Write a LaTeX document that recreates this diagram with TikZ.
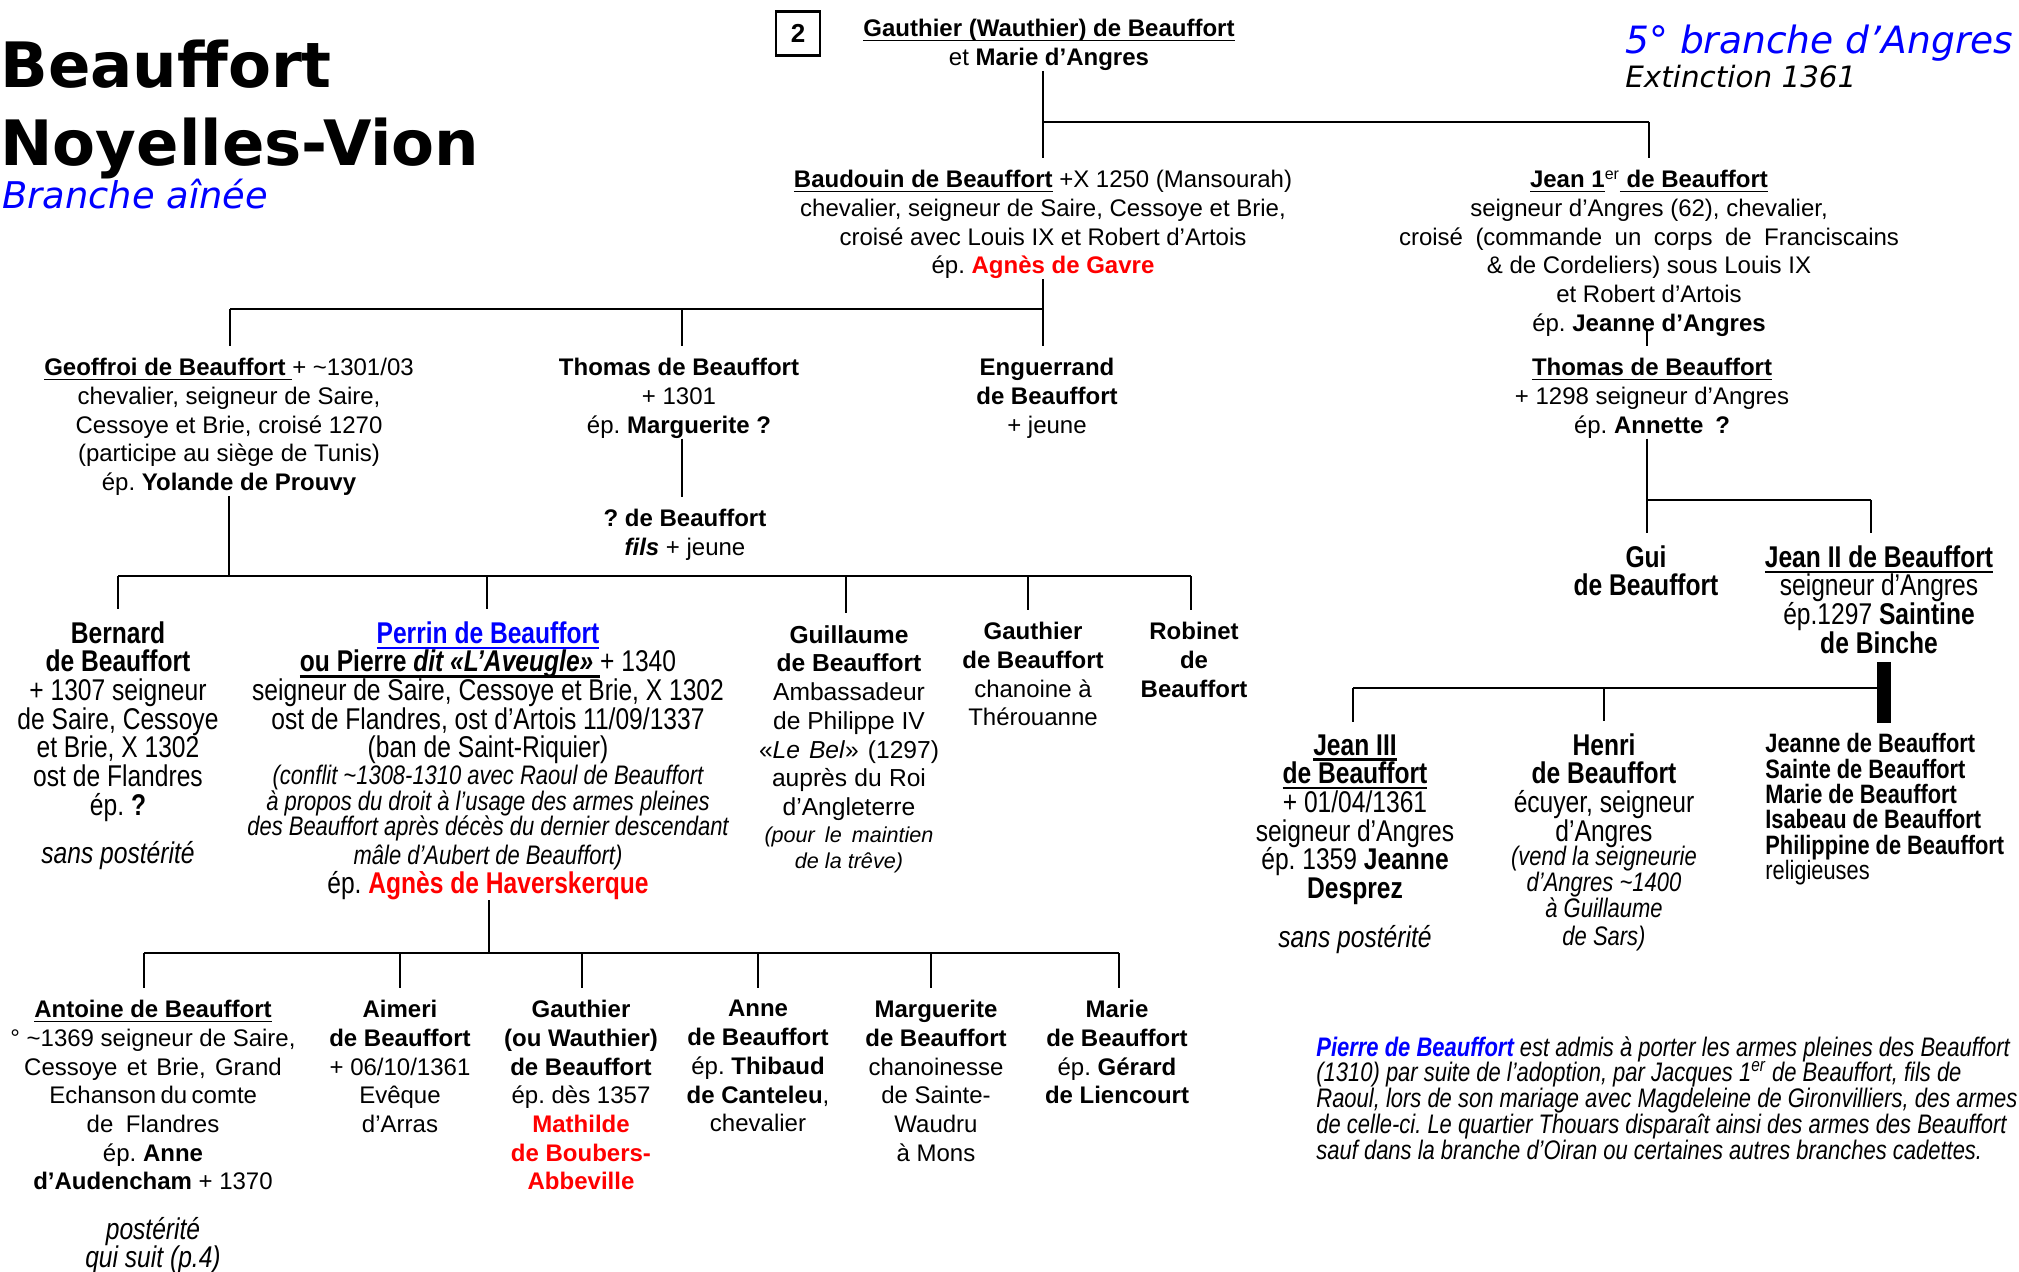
\documentclass[tikz,border=0pt]{standalone}
\usepackage{fontspec}
\setmainfont{Liberation Sans}
\newfontfamily\narrowf[FakeStretch=0.82]{Liberation Sans}
\newfontfamily\verdf{DejaVu Sans}
\usetikzlibrary{calc}
\definecolor{refblue}{RGB}{0,0,255}
\definecolor{refred}{RGB}{255,0,0}
\newcommand\ulname[1]{\setbox0=\hbox{#1}\rlap{\rule[-0.19em]{\wd0}{0.075em}}\box0}
\newcommand\smit{\narrowf\itshape\fontsize{13.4}{14.35}\selectfont}
\newcommand\gsmit{\itshape\fontsize{10.8}{14.35}\selectfont}
\newcommand\tld{\textasciitilde}
\newcommand\supr[1]{\textsuperscript{\mdseries #1}}
\AtBeginDocument{\lineskiplimit=-100pt\lineskip=0pt\frenchspacing}
\tikzset{
  pers/.style={align=center, inner sep=0pt, anchor=north, font=\fontsize{12}{14.35}\selectfont},
  narr/.style={pers, font=\narrowf\fontsize{15}{14.35}\selectfont},
  link/.style={line width=1.25pt},
  kid/.style={link, shorten >=6pt},
  heavy/.style={line width=7pt},
  titlef/.style={anchor=base west, inner sep=0pt, font=\verdf\bfseries\fontsize{31.3}{36}\selectfont},
}
\begin{document}
\begin{tikzpicture}[x=0.5pt, y=-0.5pt]
\useasboundingbox (0,0) rectangle (2019,1272);

% titles
\node[titlef] (t1) at (0,88) {Beauffort};
\node[titlef] (t2) at (0,166) {Noyelles-Vion};
\node[anchor=base west, inner sep=0pt, text=refblue, font=\verdf\itshape\fontsize{18.4}{20}\selectfont] (t3) at (2,209) {Branche aînée};
\node[anchor=base west, inner sep=0pt, text=refblue, font=\verdf\itshape\fontsize{18.8}{22}\selectfont] (t4) at (1625,54) {5° branche d’Angres};
\node[anchor=base west, inner sep=0pt, font=\verdf\itshape\fontsize{14.7}{16}\selectfont] (t5) at (1625,88) {Extinction 1361};

\node[draw, line width=1.25pt, minimum width=22pt, minimum height=22pt, inner sep=0pt, font=\bfseries\fontsize{13}{15}\selectfont] (num) at (798,33.5) {2};

% generation 1
\node[pers] (gauthier) at (1049,19) {\textbf{\ulname{Gauthier (Wauthier) de Beauffort}}\\et \textbf{Marie d’Angres}};

% generation 2
\node[pers] (baudouin) at (1043,170) {\textbf{\ulname{Baudouin de Beauffort}} +X 1250 (Mansourah)\\chevalier, seigneur de Saire, Cessoye et Brie,\\croisé avec Louis IX et Robert d’Artois\\ép. \textbf{\textcolor{refred}{Agnès de Gavre}}};
\node[pers] (jean1) at (1649,170) {\textbf{\ulname{Jean 1}\supr{er}\ulname{ de Beauffort}}\\seigneur d’Angres (62), chevalier,\\\makebox[250pt][s]{croisé (commande un corps de Franciscains}\\\& de Cordeliers) sous Louis IX\\et Robert d’Artois\\ép. \textbf{Jeanne d’Angres}};

% generation 3
\node[pers] (geoffroi) at (229,358) {\textbf{\ulname{Geoffroi de Beauffort }}+ \tld1301/03\\chevalier, seigneur de Saire,\\Cessoye et Brie, croisé 1270\\(participe au siège de Tunis)\\ép. \textbf{Yolande de Prouvy}};
\node[pers] (thomas) at (679,358) {\textbf{Thomas de Beauffort}\\+ 1301\\ép. \textbf{Marguerite ?}};
\node[pers] (enguerrand) at (1047,358) {\textbf{Enguerrand}\\\textbf{de Beauffort}\\+ jeune};
\node[pers] (thomas2) at (1652,358) {\textbf{\ulname{Thomas de Beauffort}}\\+ 1298 seigneur d’Angres\\ép. \textbf{Annette\enspace?}};

\node[pers] (inconnu) at (685,509) {\textbf{? de Beauffort}\\\textbf{\textit{fils}} + jeune};

% right branch
\node[narr] (gui) at (1646,545) {\textbf{Gui}\\\textbf{de Beauffort}};
\node[narr] (jean2) at (1879,545) {\textbf{\ulname{Jean II de Beauffort}}\\seigneur d’Angres\\ép.1297 \textbf{Saintine}\\\textbf{de Binche}};

% generation 4
\node[narr] (bernard) at (118,621) {\textbf{Bernard}\\\textbf{de Beauffort}\\+ 1307 seigneur\\de Saire, Cessoye\\et Brie, X 1302\\ost de Flandres\\ép. \textbf{?}\\[9.6pt]\textit{sans postérité}};
\node[narr] (perrin) at (488,621) {\textcolor{refblue}{\textbf{\ulname{Perrin de Beauffort}}}\\\textbf{\ulname{ou Pierre \textit{dit «L’Aveugle»} }}+ 1340\\seigneur de Saire, Cessoye et Brie, X 1302\\ost de Flandres, ost d’Artois 11/09/1337\\(ban de Saint-Riquier)\\[-0.85pt]{\smit (conflit \tld1308-1310 avec Raoul de Beauffort}\\[-1.35pt]{\smit à propos du droit à l’usage des armes pleines}\\[-1.85pt]{\smit des Beauffort après décès du dernier descendant}\\[0.15pt]{\smit mâle d’Aubert de Beauffort)}\\ép. \textcolor{refred}{\textbf{Agnès de Haverskerque}}};
\node[pers, font=\fontsize{12.3}{14.35}\selectfont] (guillaume) at (849,625) {\textbf{Guillaume}\\\textbf{de Beauffort}\\Ambassadeur\\de Philippe IV\\\makebox[90pt][s]{«\textit{Le Bel}» (1297)}\\\makebox[77pt][s]{auprès du Roi}\\d’Angleterre\\[-0.85pt]{\gsmit\makebox[84.5pt][s]{(pour le maintien}}\\[-1.35pt]{\gsmit de la trêve)}};
\node[pers] (gauthier2) at (1033,622) {\textbf{Gauthier}\\\textbf{de Beauffort}\\chanoine à\\Thérouanne};
\node[pers] (robinet) at (1194,622) {\textbf{Robinet}\\\textbf{de}\\\textbf{Beauffort}};

% right branch children
\node[narr] (jean3) at (1355,734) {\textbf{\ulname{Jean III}}\\\textbf{\ulname{de Beauffort}}\\+ 01/04/1361\\seigneur d’Angres\\ép. 1359 \textbf{Jeanne}\\\textbf{Desprez}\\[10.1pt]\textit{sans postérité}};
\node[narr] (henri) at (1604,733) {\textbf{Henri}\\\textbf{de Beauffort}\\écuyer, seigneur\\d’Angres\\[-2.35pt]{\smit (vend la seigneurie}\\[-1.35pt]{\smit d’Angres \tld1400}\\[-1.35pt]{\smit à Guillaume}\\{\smit de Sars)}};
\node[align=left, anchor=north west, inner sep=0pt, font=\narrowf\bfseries\fontsize{13.3}{12.7}\selectfont] (soeurs) at (1765,733) {Jeanne de Beauffort\\Sainte de Beauffort\\Marie de Beauffort\\Isabeau de Beauffort\\Philippine de Beauffort\\{\mdseries religieuses}};

% generation 5
\node[pers] (antoine) at (153,1000) {\textbf{\ulname{Antoine de Beauffort}}\\° \tld1369 seigneur de Saire,\\\makebox[128.8pt][s]{Cessoye et Brie, Grand}\\\makebox[103.6pt][s]{Echanson du comte}\\\makebox[66.3pt][s]{de Flandres}\\ép. \textbf{Anne}\\\textbf{d’Audencham} + 1370\\[10.3pt]{\narrowf\itshape\fontsize{15}{14.35}\selectfont postérité}\\[-0.3pt]{\narrowf\itshape\fontsize{15}{14.35}\selectfont qui suit (p.4)}};
\node[pers] (aimeri) at (400,1000) {\textbf{Aimeri}\\\textbf{de Beauffort}\\+ 06/10/1361\\Evêque\\d’Arras};
\node[pers] (gauthier3) at (581,1000) {\textbf{Gauthier}\\\textbf{(ou Wauthier)}\\\textbf{de Beauffort}\\ép. dès 1357\\\textcolor{refred}{\textbf{Mathilde}}\\\textcolor{refred}{\textbf{de Boubers-}}\\\textcolor{refred}{\textbf{Abbeville}}};
\node[pers] (anne) at (758,1000) {\textbf{Anne}\\\textbf{de Beauffort}\\ép. \textbf{Thibaud}\\\textbf{de Canteleu},\\chevalier};
\node[pers] (marguerite) at (936,1000) {\textbf{Marguerite}\\\textbf{de Beauffort}\\chanoinesse\\de Sainte-\\Waudru\\à Mons};
\node[pers] (marie) at (1117,1000) {\textbf{Marie}\\\textbf{de Beauffort}\\ép. \textbf{Gérard}\\\textbf{de Liencourt}};

% note
\node[align=left, anchor=north west, inner sep=0pt, font=\narrowf\itshape\fontsize{13.4}{12.9}\selectfont] (note) at (1316,1036) {\textcolor{refblue}{\textbf{Pierre de Beauffort}} est admis à porter les armes pleines des Beauffort\\(1310) par suite de l’adoption, par Jacques 1\supr{er} de Beauffort, fils de\\Raoul, lors de son mariage avec Magdeleine de Gironvilliers, des armes\\de celle-ci. Le quartier Thouars disparaît ainsi des armes des Beauffort\\sauf dans la branche d’Oiran ou certaines autres branches cadettes.};

% ---------- connectors ----------
% bar 1
\coordinate (b1a) at (1043,122);
\coordinate (b1b) at (1649,122);
\draw[link] (b1a |- gauthier.south) -- (b1a) -- (b1b);
\draw[kid] (b1a) -- (b1a |- baudouin.north);
\draw[kid] (b1b) -- (b1b |- jean1.north);

% bar 2
\coordinate (b2a) at (230,309);
\coordinate (b2b) at (682,309);
\coordinate (b2c) at (1043,309);
\draw[link] (b2c |- baudouin.south) -- (b2c);
\draw[link] (b2a) -- (b2c);
\draw[kid] (b2a) -- (b2a |- geoffroi.north);
\draw[kid] (b2b) -- (b2b |- thomas.north);
\draw[kid] (b2c) -- (b2c |- enguerrand.north);

% thomas -> ? de Beauffort
\draw[kid] (b2b |- thomas.south) -- (b2b |- inconnu.north);

% bar 3
\coordinate (b3x) at (229,576);
\coordinate (b3a) at (118,576);
\coordinate (b3p) at (487,576);
\coordinate (b3g) at (846,576);
\coordinate (b3h) at (1028,576);
\coordinate (b3r) at (1191,576);
\draw[link] (b3x |- geoffroi.south) -- (b3x);
\draw[link] (b3a) -- (b3r);
\draw[kid] (b3a) -- (b3a |- bernard.north);
\draw[kid] (b3p) -- (b3p |- perrin.north);
\draw[kid] (b3g) -- (b3g |- guillaume.north);
\draw[kid] (b3h) -- (b3h |- gauthier2.north);
\draw[kid] (b3r) -- (b3r |- robinet.north);

% bar 4
\coordinate (b4x) at (489,953);
\coordinate (b4a) at (144,953);
\coordinate (b4b) at (400,953);
\coordinate (b4c) at (582,953);
\coordinate (b4d) at (758,953);
\coordinate (b4e) at (931,953);
\coordinate (b4f) at (1119,953);
\draw[link] (b4x |- perrin.south) -- (b4x);
\draw[link] (b4a) -- (b4f);
\draw[kid] (b4a) -- (b4a |- antoine.north);
\draw[kid] (b4b) -- (b4b |- aimeri.north);
\draw[kid] (b4c) -- (b4c |- gauthier3.north);
\draw[kid] (b4d) -- (b4d |- anne.north);
\draw[kid] (b4e) -- (b4e |- marguerite.north);
\draw[kid] (b4f) -- (b4f |- marie.north);

% jean 1er -> thomas
\coordinate (j1x) at (1647,340);
\draw[kid, shorten <=-4pt] (j1x |- jean1.south) -- (j1x |- thomas2.north);

% bar 5
\coordinate (b5a) at (1647,500);
\coordinate (b5b) at (1871,500);
\draw[link] (b5a |- thomas2.south) -- (b5a) -- (b5b);
\draw[kid] (b5a) -- (b5a |- gui.north);
\draw[kid] (b5b) -- (b5b |- jean2.north);

% bar 6
\coordinate (b6a) at (1353,688);
\coordinate (b6h) at (1604,688);
\coordinate (b6t) at (1884,688);
\draw[heavy, shorten <=4pt, shorten >=5pt] (b6t |- jean2.south) -- (b6t |- soeurs.north);
\draw[link] (b6a) -- (b6t);
\draw[kid] (b6a) -- (b6a |- jean3.north);
\draw[kid] (b6h) -- (b6h |- henri.north);
\end{tikzpicture}
\end{document}
